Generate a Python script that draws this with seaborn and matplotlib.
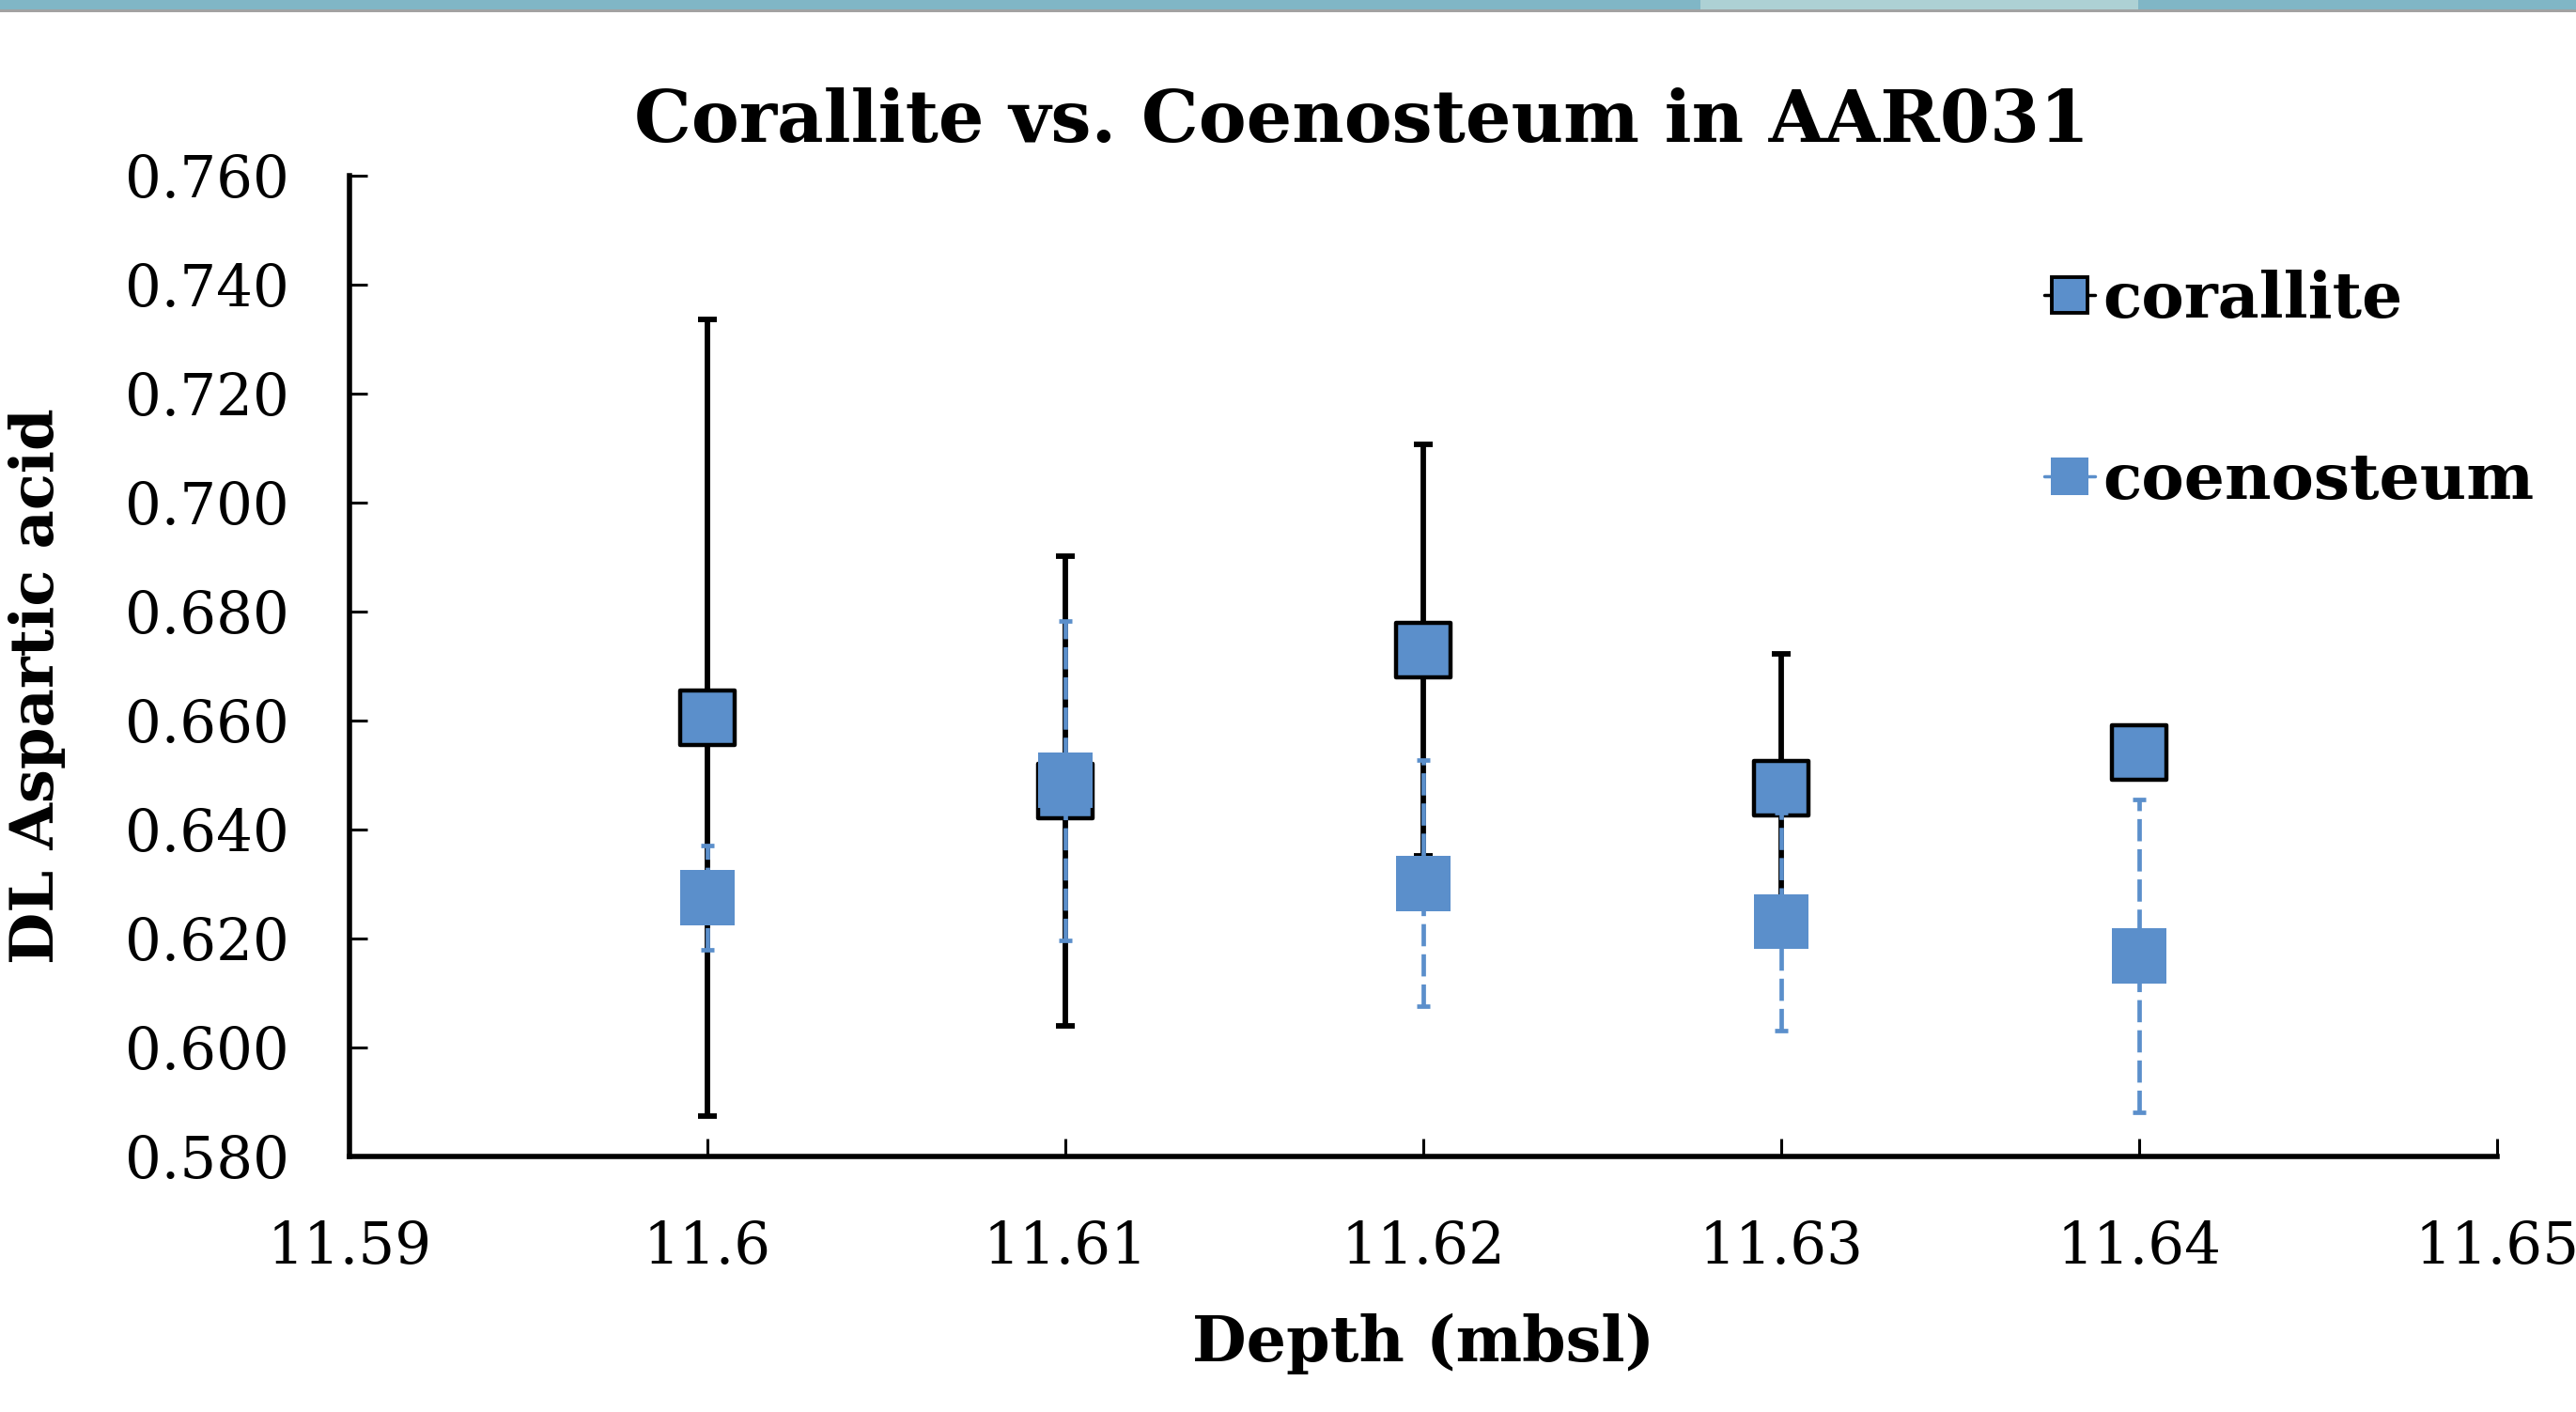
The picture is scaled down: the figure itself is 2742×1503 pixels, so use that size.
import numpy as np
import pandas as pd
import matplotlib
matplotlib.use("Agg")
import matplotlib.pyplot as plt
from matplotlib.lines import Line2D
from matplotlib.patches import Rectangle
import seaborn as sns

# ---------------- data ----------------
depth = [11.60, 11.61, 11.62, 11.63, 11.64]
corallite = [0.6605, 0.6470, 0.6729, 0.6476, 0.6542]
corallite_err = [0.0731, 0.0431, 0.0378, 0.0247, 0.0]
coenosteum = [0.6275, 0.6490, 0.6301, 0.6231, 0.6168]
coenosteum_err = [0.0095, 0.0293, 0.0226, 0.0200, 0.0287]

x_ticks = [11.59, 11.60, 11.61, 11.62, 11.63, 11.64, 11.65]
x_tick_labels = ["11.59", "11.6", "11.61", "11.62", "11.63", "11.64", "11.65"]
y_ticks = [0.580, 0.600, 0.620, 0.640, 0.660, 0.680, 0.700, 0.720, 0.740, 0.760]
y_tick_labels = ["0.580", "0.600", "0.620", "0.640", "0.660", "0.680",
                 "0.700", "0.720", "0.740", "0.760"]
series_names = ["corallite", "coenosteum"]
title_text = "Corallite vs. Coenosteum in AAR031"
x_label = "Depth (mbsl)"
y_label = "DL Aspartic acid"

# ---------------- style ----------------
BLUE = "#5B8FCB"
W, H, DPI = 2742, 1503, 100

sns.set_theme(style="ticks")
plt.rcParams["font.family"] = ["DejaVu Serif", "DejaVu Sans"]
plt.rcParams["text.color"] = "black"
plt.rcParams["axes.labelcolor"] = "black"

fig = plt.figure(figsize=(W / DPI, H / DPI), dpi=DPI)
fig.patch.set_facecolor("white")

# top decorative banner
fig.add_artist(Rectangle((0, 1 - 10 / H), 1, 10 / H, transform=fig.transFigure,
                         facecolor="#80B6C6", edgecolor="none"))
fig.add_artist(Rectangle((0.66, 1 - 10 / H), 0.17, 10 / H, transform=fig.transFigure,
                         facecolor="#B9D8D8", edgecolor="none", alpha=0.8))
fig.add_artist(Rectangle((0, 1 - 13 / H), 1, 3 / H, transform=fig.transFigure,
                         facecolor="#A2A2A2", edgecolor="none"))

left, right = 372 / W, 2658 / W
bottom, top = 272 / H, 1316 / H
ax = fig.add_axes([left, bottom, right - left, top - bottom])
ax.set_facecolor("white")

df_cor = pd.DataFrame({"depth": depth, "value": corallite, "err": corallite_err})
df_coe = pd.DataFrame({"depth": depth, "value": coenosteum, "err": coenosteum_err})

# corallite: black solid error bars + outlined squares
ax.errorbar(df_cor["depth"], df_cor["value"], yerr=df_cor["err"], fmt="none",
            ecolor="black", elinewidth=4.2, capsize=7, capthick=4.2, zorder=2)
sns.scatterplot(data=df_cor, x="depth", y="value", marker="s", s=1700,
                color=BLUE, edgecolor="black", linewidth=3.2, zorder=3, ax=ax,
                legend=False)

# coenosteum: blue dashed error bars + plain squares
eb = ax.errorbar(df_coe["depth"], df_coe["value"], yerr=df_coe["err"], fmt="none",
                 ecolor=BLUE, elinewidth=3.4, capsize=5, capthick=3.4, zorder=4)
for lc in eb[2]:
    lc.set_linestyle((0, (5, 1.8)))
sns.scatterplot(data=df_coe, x="depth", y="value", marker="s", s=1800,
                color=BLUE, edgecolor="none", linewidth=0, zorder=5, ax=ax,
                legend=False)

# axes
ax.set_xlim(11.59, 11.65)
ax.set_ylim(0.58, 0.76)
ax.set_xticks(x_ticks)
ax.set_xticklabels(x_tick_labels)
ax.set_yticks(y_ticks)
ax.set_yticklabels(y_tick_labels)
ax.tick_params(axis="both", direction="in", length=14, width=2.2, colors="black",
               labelsize=44, labelcolor="black")
ax.tick_params(axis="y", pad=46)
ax.tick_params(axis="x", pad=48)
for side in ["top", "right"]:
    ax.spines[side].set_visible(False)
for side in ["left", "bottom"]:
    ax.spines[side].set_linewidth(4.0)
    ax.spines[side].set_color("black")
ax.grid(False)

ax.set_xlabel(x_label, fontsize=48, fontweight="bold", color="black")
ax.xaxis.set_label_coords(0.5, -0.16)
ax.set_ylabel(y_label, fontsize=46, fontweight="bold", color="black")
ax.yaxis.set_label_coords(-0.132, 0.48)

ax.set_title(title_text, fontsize=55, fontweight="bold", color="black",
             x=0.4715, pad=26)

# legend
handles = [
    Line2D([0], [0], marker="s", markersize=28, markerfacecolor=BLUE,
           markeredgecolor="black", markeredgewidth=2.8, color="black", lw=2.5),
    Line2D([0], [0], marker="s", markersize=29, markerfacecolor=BLUE,
           markeredgecolor=BLUE, markeredgewidth=0, color=BLUE, lw=2.5),
]
fig.legend(handles, series_names, loc="upper left",
           bbox_to_anchor=(2176 / W, 1 - 287 / H), frameon=False,
           prop={"family": "DejaVu Serif", "weight": "bold", "size": 49},
           handlelength=0.8, handletextpad=0.12, labelspacing=1.88,
           borderpad=0, borderaxespad=0)

fig.savefig("out.png", dpi=DPI, facecolor="white")
